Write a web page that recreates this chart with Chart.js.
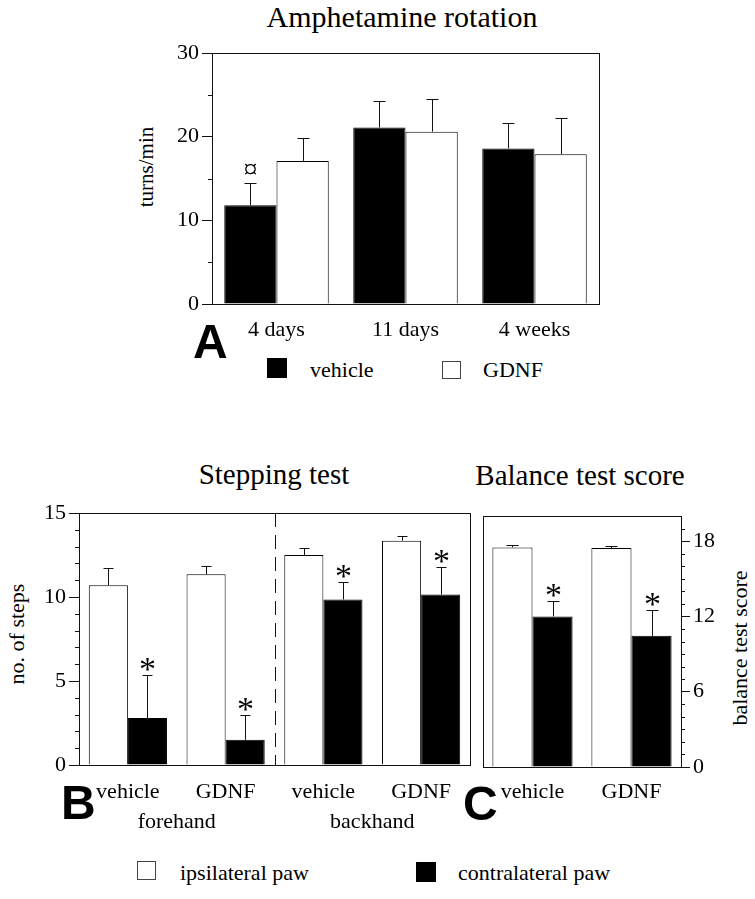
<!DOCTYPE html>
<html>
<head>
<meta charset="utf-8">
<script src="https://cdn.jsdelivr.net/npm/chart.js@4.4.1/dist/chart.umd.min.js"></script>
<style>
  body { margin: 0; width: 755px; height: 899px; position: relative; overflow: hidden; background: #fff;
         font-family: "Liberation Serif", "Times New Roman", serif; color: #000; }
  canvas { position: absolute; }
  .t { position: absolute; white-space: nowrap; line-height: 1; font-size: 22px; }
  .ttl { position: absolute; white-space: nowrap; line-height: 1; font-size: 29px; transform: translateX(-50%); }
  .big { position: absolute; line-height: 1; font-family: "Liberation Sans", Arial, sans-serif; font-weight: bold; font-size: 48px; }
  .rot { position: absolute; white-space: nowrap; line-height: 1; font-size: 22px; transform: translate(-50%, -50%) rotate(-90deg); }
  .sq { position: absolute; box-sizing: border-box; }
</style>
</head>
<body>
<div class="ttl" style="left:402px;top:2px;font-size:30px">Amphetamine rotation</div>
<div class="ttl" style="left:274px;top:460px">Stepping test</div>
<div class="ttl" style="left:580px;top:461px">Balance test score</div>

<div class="rot" style="left:146px;top:167px;font-size:21px">turns/min</div>
<div class="rot" style="left:17px;top:634px">no. of steps</div>
<div class="rot" style="left:740px;top:648px">balance test score</div>

<canvas id="ca" width="510" height="317" style="left:100px;top:33px"></canvas>
<canvas id="cb" width="476" height="345" style="left:0px;top:493px"></canvas>
<canvas id="cc" width="277" height="342" style="left:478px;top:496px"></canvas>

<div class="big" style="left:193px;top:318px">A</div>
<div class="big" style="left:61px;top:779px">B</div>
<div class="big" style="left:463px;top:780px">C</div>

<div class="sq" style="left:267px;top:358px;width:20px;height:20px;background:#000"></div>
<div class="t" style="left:310px;top:359px">vehicle</div>
<div class="sq" style="left:442px;top:361px;width:19px;height:18px;border:1px solid #444"></div>
<div class="t" style="left:483px;top:359px">GDNF</div>

<div class="sq" style="left:137px;top:861px;width:19px;height:19px;border:1px solid #444"></div>
<div class="t" style="left:180px;top:862px">ipsilateral paw</div>
<div class="sq" style="left:416px;top:862px;width:20px;height:20px;background:#000"></div>
<div class="t" style="left:458px;top:862px">contralateral paw</div>

<script>
// ---- data ----
const A_CATS = ['4 days', '11 days', '4 weeks'];
const A_VEHICLE = [11.8, 21.1, 18.6];
const A_VEHICLE_SEM = [2.7, 3.2, 3.0];
const A_VEHICLE_MARK = ['¤', '', ''];
const A_GDNF = [17.1, 20.6, 17.9];
const A_GDNF_SEM = [2.8, 3.9, 4.3];
const A_TICKS = [0, 10, 20, 30];

const B_CATS = ['vehicle', 'GDNF', 'vehicle', 'GDNF'];
const B_GROUPS = ['forehand', 'backhand'];
const B_IPSI = [10.7, 11.35, 12.5, 13.35];
const B_IPSI_SEM = [1.0, 0.5, 0.4, 0.3];
const B_CONTRA = [2.8, 1.5, 9.85, 10.15];
const B_CONTRA_SEM = [2.55, 1.5, 1.05, 1.65];
const B_CONTRA_MARK = ['*', '*', '*', '*'];
const B_TICKS = [0, 5, 10, 15];

const C_CATS = ['vehicle', 'GDNF'];
const C_IPSI = [17.5, 17.45];
const C_IPSI_SEM = [0.15, 0.15];
const C_CONTRA = [12.0, 10.45];
const C_CONTRA_SEM = [1.2, 2.05];
const C_CONTRA_MARK = ['*', '*'];
const C_TICKS = [0, 6, 12, 18];

const SERIF = "'Liberation Serif','Times New Roman',serif";
const FONT = { family: SERIF, size: 22 };

// frame, minor ticks, error bars, significance marks, divider, group labels
const deco = {
  id: 'deco',
  afterDatasetsDraw(chart, args, o) {
    const { ctx, chartArea: a, scales: { x, y } } = chart;
    ctx.save();
    ctx.strokeStyle = '#111'; ctx.fillStyle = '#000'; ctx.lineWidth = 1;
    ctx.strokeRect(Math.round(a.left) + .5, Math.round(a.top) + .5, Math.round(a.width), Math.round(a.height));

    const major = y.ticks.map(t => t.value);
    ctx.beginPath();
    for (let v = o.minor; v < y.max; v += o.minor) {
      if (major.includes(v)) continue;
      const py = Math.round(y.getPixelForValue(v)) + .5;
      if (o.side === 'right') { ctx.moveTo(a.right, py); ctx.lineTo(a.right + 4, py); }
      else { ctx.moveTo(a.left, py); ctx.lineTo(a.left - 4, py); }
    }
    ctx.stroke();

    if (o.divider) {
      const dx = Math.round((x.getPixelForValue(1) + x.getPixelForValue(2)) / 2) + .5;
      ctx.setLineDash([14, 8]);
      ctx.beginPath(); ctx.moveTo(dx, a.top); ctx.lineTo(dx, a.bottom); ctx.stroke();
      ctx.setLineDash([]);
    }

    chart.data.datasets.forEach((ds, di) => {
      chart.getDatasetMeta(di).data.forEach((bar, i) => {
        const top = Math.round(y.getPixelForValue(ds.data[i] + ds.sem[i])) + .5;
        const bx = Math.round(bar.x) + .5;
        ctx.beginPath();
        ctx.moveTo(bx, bar.y); ctx.lineTo(bx, top);
        ctx.moveTo(bx - o.cap / 2, top); ctx.lineTo(bx + o.cap / 2, top);
        ctx.stroke();
        const m = ds.marks && ds.marks[i];
        if (m) {
          const star = m === '*';
          ctx.font = (star ? 34 : 28) + 'px ' + SERIF;
          ctx.textAlign = 'center'; ctx.textBaseline = 'alphabetic';
          const mt = ctx.measureText(m);
          const cy = top - (star ? 11.5 : 15);
          ctx.fillText(m, bx, cy + (mt.actualBoundingBoxAscent - mt.actualBoundingBoxDescent) / 2);
        }
      });
    });

    if (o.groups) {
      ctx.font = '22px ' + SERIF; ctx.textAlign = 'center'; ctx.textBaseline = 'alphabetic';
      o.groups.forEach((g, k) => {
        const gx = (x.getPixelForValue(2 * k) + x.getPixelForValue(2 * k + 1)) / 2;
        ctx.fillText(g, gx, a.bottom + 63);
      });
    }
    ctx.restore();
  }
};

function barChart(id, cats, sets, y, pad, xH, xPad, catPct, deco_opts) {
  return new Chart(document.getElementById(id), {
    type: 'bar',
    data: {
      labels: cats,
      datasets: sets.map(s => ({
        data: s.data, sem: s.sem, marks: s.marks,
        backgroundColor: s.fill, borderColor: '#000', borderWidth: 1,
        categoryPercentage: catPct, barPercentage: 1
      }))
    },
    options: {
      responsive: false, animation: false,
      layout: { padding: pad },
      plugins: { legend: { display: false }, tooltip: { enabled: false }, deco: deco_opts },
      scales: {
        x: {
          grid: { display: false, drawTicks: false }, border: { display: false },
          ticks: { font: FONT, color: '#000', padding: xPad },
          afterFit: s => { s.height = xH; }
        },
        y: {
          position: y.side, min: 0, max: y.max,
          afterBuildTicks: s => { s.ticks = y.ticks.map(v => ({ value: v })); },
          afterFit: s => { s.width = y.w; },
          grid: { drawOnChartArea: false, drawTicks: true, tickLength: y.tl, color: '#111', tickColor: '#111' },
          border: { display: false },
          ticks: { font: FONT, color: '#000', padding: 3 }
        }
      }
    },
    plugins: [deco]
  });
}

barChart('ca', A_CATS, [
  { data: A_VEHICLE, sem: A_VEHICLE_SEM, marks: A_VEHICLE_MARK, fill: '#000' },
  { data: A_GDNF, sem: A_GDNF_SEM, fill: '#fff' }
], { side: 'left', max: 30, ticks: A_TICKS, w: 112, tl: 10 },
  { top: 20, right: 11, left: 0, bottom: 0 }, 46, 13, 0.81,
  { minor: 5, cap: 12, side: 'left' });

barChart('cb', B_CATS, [
  { data: B_IPSI, sem: B_IPSI_SEM, fill: '#fff' },
  { data: B_CONTRA, sem: B_CONTRA_SEM, marks: B_CONTRA_MARK, fill: '#000' }
], { side: 'left', max: 15, ticks: B_TICKS, w: 79, tl: 10 },
  { top: 20, right: 6, left: 0, bottom: 0 }, 73, 14, 0.8,
  { minor: 1, cap: 10, side: 'left', divider: true, groups: B_GROUPS });

barChart('cc', C_CATS, [
  { data: C_IPSI, sem: C_IPSI_SEM, fill: '#fff' },
  { data: C_CONTRA, sem: C_CONTRA_SEM, marks: C_CONTRA_MARK, fill: '#000' }
], { side: 'right', max: 20, ticks: C_TICKS, w: 74, tl: 9 },
  { top: 20, right: 0, left: 5, bottom: 0 }, 71, 12, 0.81,
  { minor: 1, cap: 12, side: 'right' });
</script>
</body>
</html>
